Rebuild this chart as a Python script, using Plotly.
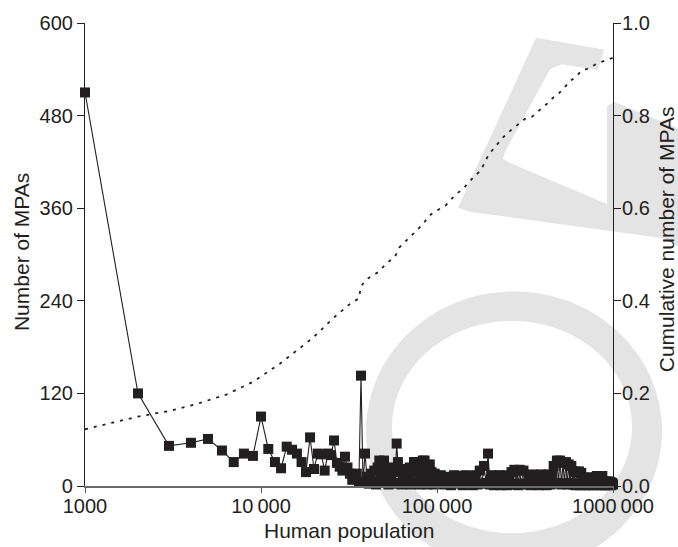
import math
import plotly.graph_objects as go

# ---------------- data (population bins in thousands) ----------------
pop_k_1 = [1, 2, 3, 4, 5, 6, 7, 8, 9, 10,
           11, 12, 13, 14, 15, 16, 17, 18, 19, 20,
           21, 22, 23, 24, 25, 26, 27, 28, 29, 30,
           31, 32, 33, 34, 35, 36, 37, 38, 39, 40]
mpas_1 = [510, 120, 52, 56, 61, 46, 31, 42, 39, 90,
          48, 31, 23, 51, 47, 42, 31, 18, 63, 22,
          42, 41, 20, 42, 40, 59, 30, 25, 20, 38,
          24, 16, 8, 15, 16, 6, 143, 5, 42, 12]

pop_k_2 = [41, 42, 43, 44, 45, 46, 47, 48, 49, 50,
           51, 52, 53, 54, 55, 56, 57, 58, 59, 60,
           61, 62, 63, 64, 65, 66, 67, 68, 69, 70,
           71, 72, 73, 74, 75, 76, 77, 78, 79, 80,
           81, 82, 83, 84, 85, 86, 87, 88, 89, 90,
           91, 92, 93, 94, 95, 96, 97, 98, 99, 100]
mpas_2 = [3, 16, 5, 20, 2, 24, 33, 8, 20, 33,
          4, 18, 2, 22, 6, 24, 3, 18, 55, 31,
          4, 20, 2, 16, 5, 22, 3, 18, 6, 24,
          2, 20, 4, 31, 31, 3, 18, 5, 22, 2,
          16, 6, 33, 20, 33, 4, 18, 2, 22, 5,
          28, 3, 18, 6, 14, 2, 16, 4, 12, 3]

pop_k_3 = [105, 110, 115, 120, 125, 130, 135, 140, 145, 150,
           155, 160, 165, 170, 175, 180, 185, 190, 195, 200,
           205, 210, 215, 220, 225, 230, 235, 240, 245, 250,
           255, 260, 265, 270, 275, 280, 285, 290, 295, 300]
mpas_3 = [14, 2, 12, 1, 14, 3, 13, 1, 14, 2,
          12, 1, 14, 2, 20, 3, 26, 4, 42, 2,
          14, 1, 13, 2, 14, 1, 12, 3, 14, 1,
          13, 2, 18, 3, 21, 2, 20, 1, 21, 3]

pop_k_4 = [310, 320, 330, 340, 350, 360, 370, 380, 390, 400,
           410, 420, 430, 440, 450, 460, 470, 480, 490, 500,
           510, 520, 530, 540, 550, 560, 570, 580, 590, 600,
           610, 620, 630, 640, 650, 660, 670, 680, 690, 700,
           710, 720, 730, 740, 750, 760, 770, 780, 790, 800,
           810, 820, 830, 840, 850, 860, 870, 880, 890, 900,
           910, 920, 930, 940, 950, 960, 970, 980, 990, 1000]
mpas_4 = [20, 2, 10, 1, 15, 2, 14, 1, 15, 3,
          14, 1, 15, 2, 14, 26, 3, 33, 4, 33,
          2, 30, 3, 31, 2, 28, 4, 26, 2, 19,
          1, 18, 3, 19, 1, 17, 2, 11, 1, 10,
          2, 11, 1, 10, 2, 11, 1, 10, 2, 11,
          13, 1, 13, 2, 12, 1, 13, 2, 6, 1,
          6, 2, 5, 1, 6, 2, 5, 1, 4, 2]

cum_pop_k = [1, 2, 3, 4.3, 6.4, 9, 12.8, 19.7, 25.8, 32.7,
             36, 37, 40.7, 46.4, 51.3, 57.7, 61, 67.8, 75, 82.9,
             90.4, 98.7, 112, 120, 128, 141, 161, 177, 187, 196,
             209, 221, 236, 262, 290, 316, 345, 371, 402, 429,
             458, 495, 534, 570, 614, 655, 733, 800, 874, 961, 1000]
cum_frac = [0.1225, 0.150, 0.162, 0.177, 0.198, 0.225, 0.264, 0.320, 0.363, 0.396,
            0.405, 0.432, 0.449, 0.462, 0.480, 0.495, 0.515, 0.533, 0.548, 0.565,
            0.584, 0.594, 0.606, 0.618, 0.630, 0.642, 0.667, 0.681, 0.699, 0.715,
            0.728, 0.738, 0.752, 0.768, 0.781, 0.793, 0.797, 0.807, 0.817, 0.828,
            0.839, 0.849, 0.862, 0.875, 0.883, 0.895, 0.903, 0.911, 0.917, 0.922, 0.925]

x_ticks = [1000, 10000, 100000, 1000000]
x_tick_text = ["1000", "10\u2009000", "100\u2009000", "1000\u2009000"]
y_ticks = [0, 120, 240, 360, 480, 600]
y2_ticks = [0, 0.2, 0.4, 0.6, 0.8, 1.0]
y2_tick_text = ["0.0", "0.2", "0.4", "0.6", "0.8", "1.0"]

pop = [k * 1000 for k in pop_k_1 + pop_k_2 + pop_k_3 + pop_k_4]
mpas = mpas_1 + mpas_2 + mpas_3 + mpas_4
cum_pop = [k * 1000 for k in cum_pop_k]

# ---------------- layout geometry ----------------
W, H = 678, 547
L, R, T, B = 85, 65, 15, 61
PW, PH = W - L - R, H - T - B
INK = "#231f20"
FONT = "Liberation Sans, Arial, Helvetica, sans-serif"


def to_paper(px, py):
    return (px - L) / PW, (T + PH - py) / PH


def poly(pts):
    s = []
    for i, (px, py) in enumerate(pts):
        x, y = to_paper(px, py)
        s.append(("M" if i == 0 else "L") + f"{x:.4f},{y:.4f}")
    return " ".join(s) + " Z"


def ellipse(cx, cy, rx, ry, n=90):
    pts = [(cx + rx * math.cos(2 * math.pi * i / n), cy + ry * math.sin(2 * math.pi * i / n)) for i in range(n)]
    return poly(pts)


WM = "#e4e4e5"
letter_f = [(458, 203), (536, 30), (604, 42), (598, 63), (562, 57), (550, 62),
            (505, 146), (503, 153), (509, 157), (607, 199), (607, 100), (614, 95),
            (678, 122), (678, 242), (663, 234), (470, 207)]
shapes = [
    dict(type="path", xref="paper", yref="paper", path=poly(letter_f),
         fillcolor=WM, line=dict(width=0), layer="below"),
    dict(type="path", xref="paper", yref="paper",
         path=ellipse(514, 430, 148, 142) + " " + ellipse(512, 426, 120, 108),
         fillcolor=WM, line=dict(width=0), layer="below", fillrule="evenodd"),
]

fig = go.Figure()
fig.add_trace(go.Scatter(
    x=cum_pop, y=cum_frac, yaxis="y2", mode="lines",
    line=dict(color=INK, width=1.8, dash="3px,6px"),
    hoverinfo="skip", showlegend=False))
fig.add_trace(go.Scatter(
    x=pop, y=mpas, mode="lines+markers",
    line=dict(color=INK, width=1.1),
    marker=dict(symbol="square", size=10, color=INK, line=dict(width=0)),
    cliponaxis=False, showlegend=False))

axis_font = dict(family=FONT, size=20, color=INK)
fig.update_layout(
    width=W, height=H,
    margin=dict(l=L, r=R, t=T, b=B, pad=0),
    paper_bgcolor="white", plot_bgcolor="rgba(0,0,0,0)",
    font=dict(family=FONT, color=INK),
    shapes=shapes,
    xaxis=dict(type="log", range=[2.99999, 6.00001], tickvals=x_ticks, ticktext=x_tick_text,
               ticks="outside", ticklen=5, tickwidth=1, tickcolor="#555",
               showline=True, linecolor="#6a6a6a", linewidth=2, ticklabelstandoff=-4,
               showgrid=False, zeroline=False, tickfont=axis_font),
    yaxis=dict(range=[0, 600], tickvals=y_ticks, ticks="outside", ticklen=7,
               tickwidth=1, tickcolor=INK, showline=True, linecolor=INK, linewidth=1.2,
               showgrid=False, zeroline=False, tickfont=axis_font),
    yaxis2=dict(range=[0, 1], overlaying="y", side="right", tickvals=y2_ticks,
                ticktext=y2_tick_text, ticks="outside", ticklen=7, tickwidth=1,
                tickcolor=INK, showline=True, linecolor=INK, linewidth=1.2,
                ticklabelstandoff=-3,
                showgrid=False, zeroline=False, tickfont=axis_font),
    annotations=[
        dict(text="Human population", xref="paper", yref="paper",
             x=(349 - L) / PW, y=(T + PH - 531) / PH, showarrow=False,
             xanchor="center", yanchor="middle",
             font=dict(family=FONT, size=21, color=INK)),
        dict(text="Number of MPAs", xref="paper", yref="paper", textangle=-90,
             x=(21 - L) / PW, y=(T + PH - 248) / PH, showarrow=False,
             xanchor="center", yanchor="middle",
             font=dict(family=FONT, size=21, color=INK)),
        dict(text="Cumulative number of MPAs", xref="paper", yref="paper", textangle=-90,
             x=(666 - L) / PW, y=(T + PH - 235) / PH, showarrow=False,
             xanchor="center", yanchor="middle",
             font=dict(family=FONT, size=21, color=INK)),
    ],
)

fig.write_html("out.html")
